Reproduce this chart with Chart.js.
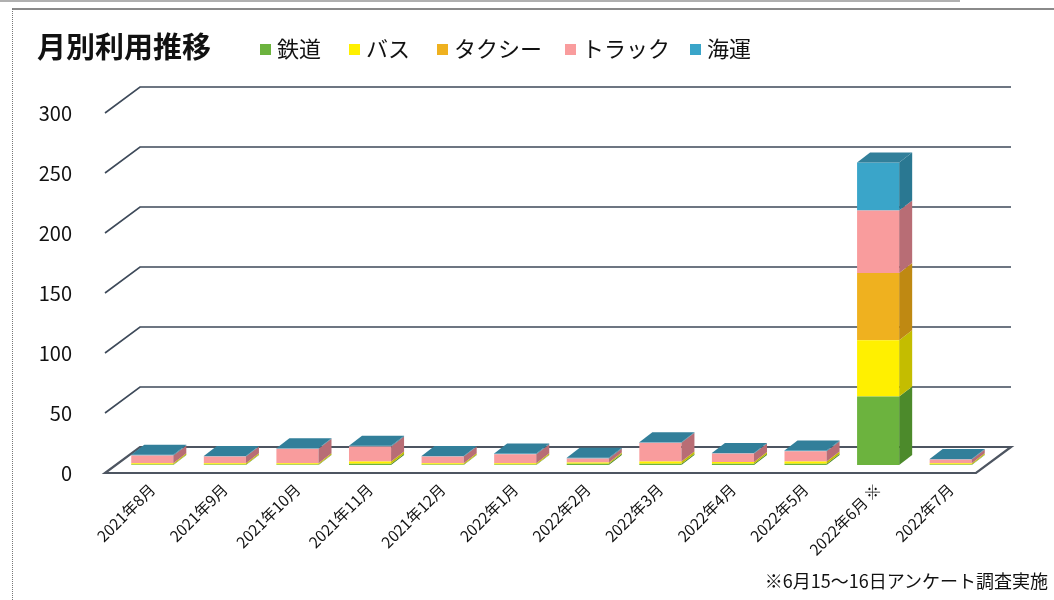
<!DOCTYPE html>
<html>
<head>
<meta charset="utf-8">
<script src="https://cdn.jsdelivr.net/npm/chart.js@4"></script>
<style>
body { margin: 0; background: #fff; font-family: "Noto Sans CJK JP", sans-serif; }
#wrap { position: relative; width: 1054px; height: 600px; overflow: hidden; }
#frame { position: absolute; left: 12px; top: 8px; right: -4px; bottom: -4px;
         border-top: 2px solid #8a8a8a; border-left: 1px dotted #777; }
#topline { position: absolute; left: 0; top: 0; width: 960px; height: 2px; background: #b0b0b0; }
#box { position: absolute; left: 0; top: 0; width: 1054px; height: 600px; }
#title { position: absolute; left: 37px; top: 24px; font-size: 29px; font-weight: bold; color: #111; }
.lg { position: absolute; top: 31px; font-size: 22px; color: #111; white-space: nowrap; }
.lg i { display: inline-block; width: 11px; height: 11px; margin-right: 6px; vertical-align: 2px; }
#note { position: absolute; right: 6px; top: 567px; font-size: 18px; color: #111; }
</style>
</head>
<body>
<div id="wrap">
  <div id="topline"></div>
  <div id="frame"></div>
  <div id="box"><canvas id="chart"></canvas></div>
  <div id="title">月別利用推移</div>
  <div id="legend"></div>
  <div id="note">※6月15〜16日アンケート調査実施</div>
</div>
<script>
// 月別・交通機関別の利用件数
const months = ['2021年8月', '2021年9月', '2021年10月', '2021年11月', '2021年12月', '2022年1月',
                '2022年2月', '2022年3月', '2022年4月', '2022年5月', '2022年6月 ※', '2022年7月'];
const rail  = [0.5, 0.5, 0.5, 1, 0.5, 0.5, 1, 1, 1, 1, 57, 0.5];
const bus   = [1, 1, 1, 2, 1, 1, 1, 2, 1.5, 2, 47, 1];
const taxi  = [0, 0, 0, 0, 0, 0, 0, 0, 0, 0, 56, 0];
const truck = [6.5, 5.5, 12, 12.5, 5.5, 7.5, 3.5, 15.5, 7, 8.5, 52, 3];
const ship  = [0.5, 0.5, 0.5, 0.5, 0.5, 0.5, 0.5, 0.5, 0.5, 0.5, 40, 0.5];
const yTicks = [0, 50, 100, 150, 200, 250, 300];

const seriesNames = ['鉄道', 'バス', 'タクシー', 'トラック', '海運'];
const front = ['#6cb33e', '#fff000', '#efb11f', '#f99c9d', '#3aa5c9'];
const side  = ['#4c8a2b', '#c4bd00', '#bf8912', '#b86d75', '#2a7892'];
const top_  = ['#7fc452', '#fff766', '#f5c655', '#f7b0b0', '#327f9a'];

// legend (hand placed like the original)
const legendX = [260, 349, 437, 565, 690];
document.getElementById('legend').innerHTML = seriesNames.map((n, i) =>
  '<div class="lg" style="left:' + legendX[i] + 'px"><i style="background:' + front[i] + '"></i>' + n + '</div>'
).join('');

const DX = 35, DY = 26;   // floor depth
const BX = 13, BY = 10;   // bar depth
const BACK = 8;           // bars stand a bit behind the front edge
const FL = 11;            // floor front is this much left of the bar plane

const depth3d = {
  id: 'depth3d',
  beforeDatasetsDraw(chart) {
    const {ctx, chartArea: a, scales: {y}} = chart;
    const l = a.left - FL, r = a.right - FL, b = y.getPixelForValue(0);
    ctx.save();
    ctx.lineWidth = 1.6;
    ctx.strokeStyle = '#3e4a5a';
    yTicks.forEach(v => {
      if (v === 0) return;
      const py = y.getPixelForValue(v);
      ctx.beginPath();
      ctx.moveTo(l, py);
      ctx.lineTo(l + DX, py - DY);
      ctx.lineTo(r + DX, py - DY);
      ctx.stroke();
    });
    ctx.lineWidth = 2.2;
    ctx.strokeStyle = '#4d5561';
    ctx.beginPath();
    ctx.moveTo(l, b);
    ctx.lineTo(r, b);
    ctx.lineTo(r + DX, b - DY);
    ctx.lineTo(l + DX, b - DY);
    ctx.closePath();
    ctx.stroke();
    ctx.restore();
    ctx.save();
    ctx.translate(0, -BACK);
  },
  afterDatasetsDraw(chart) {
    const ctx = chart.ctx;
    const tops = [];
    chart.data.datasets.forEach((ds, di) => {
      chart.getDatasetMeta(di).data.forEach((bar, i) => {
        if (!ds.data[i]) return;
        const p = bar.getProps(['x', 'y', 'base', 'width'], true);
        const xr = p.x + p.width / 2;
        ctx.fillStyle = side[di];
        ctx.beginPath();
        ctx.moveTo(xr, p.base);
        ctx.lineTo(xr, p.y);
        ctx.lineTo(xr + BX, p.y - BY);
        ctx.lineTo(xr + BX, p.base - BY);
        ctx.closePath();
        ctx.fill();
        tops[i] = {x: p.x, y: p.y, w: p.width, c: top_[di]};
      });
    });
    tops.forEach(t => {
      if (!t) return;
      const xl = t.x - t.w / 2, xr = t.x + t.w / 2;
      ctx.fillStyle = t.c;
      ctx.beginPath();
      ctx.moveTo(xl, t.y);
      ctx.lineTo(xr, t.y);
      ctx.lineTo(xr + BX, t.y - BY);
      ctx.lineTo(xl + BX, t.y - BY);
      ctx.closePath();
      ctx.fill();
    });
    ctx.restore();
  }
};

const values = [rail, bus, taxi, truck, ship];
new Chart(document.getElementById('chart'), {
  type: 'bar',
  data: {
    labels: months,
    datasets: values.map((d, i) => ({
      label: seriesNames[i],
      data: d,
      backgroundColor: front[i],
      borderWidth: 0,
      categoryPercentage: 1,
      barPercentage: 0.58
    }))
  },
  options: {
    responsive: true,
    maintainAspectRatio: false,
    animation: false,
    layout: { padding: { top: 113, right: 67, left: 0, bottom: 0 } },
    plugins: {
      legend: { display: false },
      tooltip: { enabled: false }
    },
    scales: {
      x: {
        stacked: true,
        grid: { display: false, drawTicks: false },
        border: { display: false },
        afterFit: s => { s.height = 127; },
        ticks: {
          autoSkip: false,
          maxRotation: 45,
          minRotation: 45,
          padding: 7,
          color: '#111',
          font: { family: 'Noto Sans CJK JP', size: 15.5 }
        }
      },
      y: {
        stacked: true,
        min: 0,
        max: 300,
        grid: { display: false, drawTicks: false },
        border: { display: false },
        afterFit: s => { s.width = 116; },
        afterBuildTicks: s => { s.ticks = yTicks.map(v => ({ value: v })); },
        ticks: {
          padding: 44,
          color: '#111',
          font: { family: 'Noto Sans CJK JP', size: 20 }
        }
      }
    }
  },
  plugins: [depth3d]
});
</script>
</body>
</html>
